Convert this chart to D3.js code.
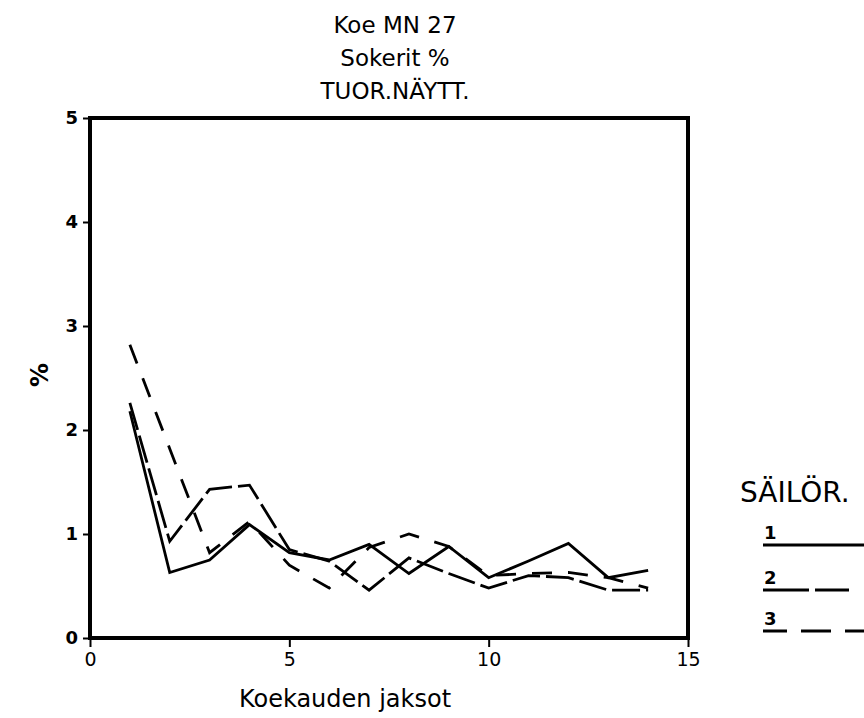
<!DOCTYPE html>
<html>
<head>
<meta charset="utf-8">
<script src="https://cdn.jsdelivr.net/npm/d3@7"></script>
<style>
  body { margin: 0; background: #fff; }
  text { font-family: "DejaVu Sans", sans-serif; fill: #000; }
</style>
</head>
<body>
<svg id="chart" width="864" height="718"></svg>
<script>
// jaksot 1..14
const periods = [1, 2, 3, 4, 5, 6, 7, 8, 9, 10, 11, 12, 13, 14]
const sailor1 = [2.18, 0.63, 0.75, 1.09, 0.82, 0.75, 0.90, 0.62, 0.88, 0.58, 0.74, 0.91, 0.58, 0.65]
const sailor2 = [2.26, 0.93, 1.43, 1.47, 0.85, 0.74, 0.46, 0.77, 0.62, 0.48, 0.60, 0.58, 0.46, 0.46]
const sailor3 = [2.82, 1.82, 0.82, 1.12, 0.70, 0.48, 0.87, 1.00, 0.88, 0.60, 0.62, 0.63, 0.58, 0.48]
const seriesNames = ["1", "2", "3"]
const xTicks = [0, 5, 10, 15]
const yTicks = [0, 1, 2, 3, 4, 5]
const titleLines = ["Koe MN 27", "Sokerit %", "TUOR.NÄYTT."]

const dashes = ["none", "28,6", "20,16"]
const legendDashes = ["none", "46,6,34", "24,14,30,14"]

const svg = d3.select("#chart")
const plotLeft = 90, plotRight = 688, plotTop = 118, plotBottom = 638

const x = d3.scaleLinear().domain([0, 15]).range([plotLeft, plotRight])
const y = d3.scaleLinear().domain([0, 5]).range([plotBottom, plotTop])

// title
svg.append("g").selectAll("text")
  .data(titleLines)
  .enter().append("text")
  .attr("x", 395)
  .attr("y", (d, i) => 33 + i * 33)
  .attr("text-anchor", "middle")
  .style("font-size", "23px")
  .text(d => d)

// box
svg.append("rect")
  .attr("x", plotLeft).attr("y", plotTop)
  .attr("width", plotRight - plotLeft).attr("height", plotBottom - plotTop)
  .attr("fill", "none")
  .attr("stroke", "#000")
  .attr("stroke-width", 4)

// y axis
const yAxis = svg.append("g")
  .attr("transform", `translate(${plotLeft},0)`)
  .call(d3.axisLeft(y).tickValues(yTicks).tickSize(7).tickPadding(5).tickFormat(d3.format("d")))
yAxis.select(".domain").remove()
yAxis.selectAll("line").attr("stroke-width", 2)
yAxis.selectAll("text").style("font-size", "18px").style("font-weight", "bold").style("font-family", "DejaVu Sans")

// x axis
const xAxis = svg.append("g")
  .attr("transform", `translate(0,${plotBottom})`)
  .call(d3.axisBottom(x).tickValues(xTicks).tickSize(9).tickPadding(6).tickFormat(d3.format("d")))
xAxis.select(".domain").remove()
xAxis.selectAll("line").attr("stroke-width", 2)
xAxis.selectAll("text").style("font-size", "19px").style("font-family", "DejaVu Sans")

// axis titles
svg.append("text")
  .attr("x", 345).attr("y", 707)
  .attr("text-anchor", "middle")
  .style("font-size", "24px")
  .text("Koekauden jaksot")

svg.append("text")
  .attr("transform", "translate(48,375) rotate(-90)")
  .attr("text-anchor", "middle")
  .style("font-size", "24px")
  .style("font-weight", "bold")
  .text("%")

// lines
const line = d3.line()
  .x((d, i) => x(periods[i]))
  .y(d => y(d))

svg.append("g").selectAll("path")
  .data([sailor1, sailor2, sailor3])
  .enter().append("path")
  .attr("d", line)
  .attr("fill", "none")
  .attr("stroke", "#000")
  .attr("stroke-width", 2.8)
  .attr("stroke-dasharray", (d, i) => dashes[i])

// legend
const legend = svg.append("g")
legend.append("text")
  .attr("x", 740).attr("y", 502)
  .style("font-size", "28px")
  .text("SÄILÖR.")

const legendY = [545, 590, 631]
const items = legend.selectAll("g.item")
  .data(seriesNames)
  .enter().append("g")
  .attr("class", "item")

items.append("text")
  .attr("x", 764)
  .attr("y", (d, i) => legendY[i] - 6)
  .style("font-size", "18px")
  .style("font-weight", "bold")
  .text(d => d)

items.append("line")
  .attr("x1", 763).attr("x2", 864)
  .attr("y1", (d, i) => legendY[i]).attr("y2", (d, i) => legendY[i])
  .attr("stroke", "#000")
  .attr("stroke-width", 2.8)
  .attr("stroke-dasharray", (d, i) => legendDashes[i])
</script>
</body>
</html>
